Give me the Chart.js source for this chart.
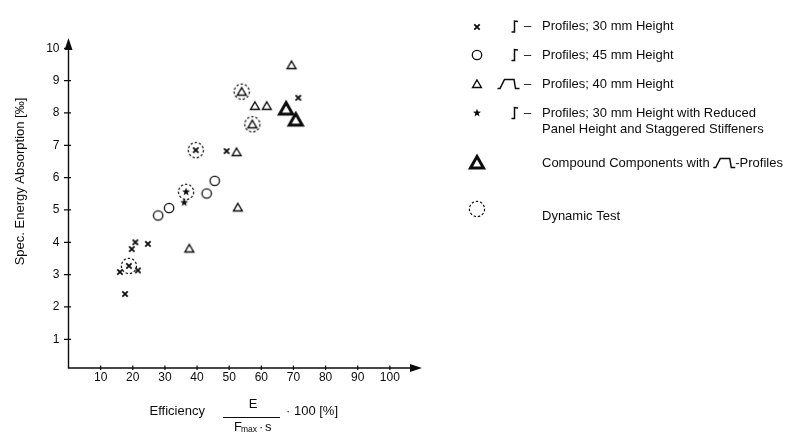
<!DOCTYPE html>
<html>
<head>
<meta charset="utf-8">
<script src="https://cdn.jsdelivr.net/npm/chart.js@4/dist/chart.umd.min.js"></script>
<style>
  html, body { margin: 0; padding: 0; background: #fff; }
  #wrap { width: 798px; height: 435px; position: relative; }
</style>
</head>
<body>
<div id="wrap"><canvas id="chart"></canvas></div>
<script>
// Tick labels
const xTicks = [10, 20, 30, 40, 50, 60, 70, 80, 90, 100];
const yTicks = [1, 2, 3, 4, 5, 6, 7, 8, 9, 10];

// Efficiency E/(Fmax·s)·100 [%] against specific energy absorption
const zProfile30X = [16.0, 17.6, 18.8, 19.7, 20.8, 21.6, 24.7, 39.6, 49.2, 71.5];
const zProfile30Y = [3.08, 2.40, 3.27, 3.79, 4.00, 3.13, 3.95, 6.85, 6.82, 8.47];

const zProfile45X = [27.9, 31.3, 43.0, 45.5];
const zProfile45Y = [4.83, 5.06, 5.51, 5.90];

const hatProfile40X = [37.6, 52.7, 52.3, 53.9, 57.2, 58.0, 61.7, 69.4];
const hatProfile40Y = [3.81, 5.08, 6.79, 8.66, 7.65, 8.22, 8.22, 9.48];

const staggeredX = [36.0, 36.6];
const staggeredY = [5.23, 5.56];

const compoundX = [67.7, 70.7];
const compoundY = [8.12, 7.78];

const dynamicX = [18.8, 39.6, 36.6, 53.9, 57.2];
const dynamicY = [3.27, 6.85, 5.56, 8.66, 7.65];

const legendLabels = [
  ['Profiles; 30 mm Height'],
  ['Profiles; 45 mm Height'],
  ['Profiles; 40 mm Height'],
  ['Profiles; 30 mm Height with Reduced', 'Panel Height and Staggered Stiffeners'],
  ['Compound Components with', '-Profiles'],
  ['Dynamic Test']
];

const INK = '#0c0c0c';
const FONT = "'Liberation Sans', Arial, Helvetica, sans-serif";
Chart.defaults.font.family = FONT;
Chart.defaults.color = INK;

const toPoints = (xs, ys) => xs.map((x, i) => ({ x: x, y: ys[i] }));

// Marker sprites, shared by the plot and the key
function makeMarker(size, draw) {
  const c = document.createElement('canvas');
  c.width = size; c.height = size;
  const g = c.getContext('2d');
  g.translate(size / 2, size / 2);
  g.strokeStyle = INK; g.fillStyle = INK;
  g.lineCap = 'butt';
  draw(g);
  return c;
}
const markers = {
  cross: makeMarker(14, g => {
    g.lineWidth = 1.8;
    g.beginPath();
    g.moveTo(-2.7, -2.7); g.lineTo(2.7, 2.7);
    g.moveTo(2.7, -2.7); g.lineTo(-2.7, 2.7);
    g.stroke();
  }),
  circle: makeMarker(14, g => {
    g.lineWidth = 1.3;
    g.beginPath(); g.arc(0, 0, 4.7, 0, Math.PI * 2); g.stroke();
  }),
  triangle: makeMarker(16, g => {
    g.lineWidth = 1.4;
    g.beginPath(); g.moveTo(0, -4); g.lineTo(4.4, 3.5); g.lineTo(-4.4, 3.5); g.closePath(); g.stroke();
  }),
  star: makeMarker(14, g => {
    g.beginPath();
    for (let i = 0; i < 10; i++) {
      const r = i % 2 === 0 ? 4.2 : 1.8;
      const a = -Math.PI / 2 + i * Math.PI / 5;
      if (i === 0) g.moveTo(r * Math.cos(a), r * Math.sin(a));
      else g.lineTo(r * Math.cos(a), r * Math.sin(a));
    }
    g.closePath(); g.fill();
  }),
  boldTriangle: makeMarker(24, g => {
    g.lineWidth = 3; g.lineJoin = 'miter';
    g.beginPath(); g.moveTo(0, -6.5); g.lineTo(6.5, 5); g.lineTo(-6.5, 5); g.closePath(); g.stroke();
  }),
  dynamic: makeMarker(22, g => {
    g.lineWidth = 1.2; g.setLineDash([2.4, 1.9]);
    g.beginPath(); g.arc(0, 0, 7.6, 0, Math.PI * 2); g.stroke();
  })
};

// Small profile cross-section symbols used in the key
function drawZGlyph(ctx, x, y) {
  ctx.beginPath();
  ctx.moveTo(x - 3, y + 5.5); ctx.lineTo(x, y + 5.5);
  ctx.lineTo(x, y - 5.5); ctx.lineTo(x + 3.5, y - 5);
  ctx.stroke();
}
function drawHatGlyph(ctx, x, y) {
  ctx.beginPath();
  ctx.moveTo(x, y + 4.5); ctx.lineTo(x + 2.5, y + 4.5);
  ctx.lineTo(x + 7, y - 4.5); ctx.lineTo(x + 16.5, y - 4.5);
  ctx.lineTo(x + 18, y + 4.5); ctx.lineTo(x + 22, y + 4.5);
  ctx.stroke();
}

const axesPlugin = {
  id: 'arrowAxes',
  beforeDatasetsDraw(chart) {
    const { ctx, chartArea: ca, scales } = chart;
    const L = ca.left, B = ca.bottom;
    ctx.save();
    ctx.strokeStyle = INK; ctx.fillStyle = INK; ctx.lineWidth = 1.4;
    // axis lines
    ctx.beginPath();
    ctx.moveTo(L, ca.top + 8); ctx.lineTo(L, B); ctx.lineTo(ca.right - 9, B);
    ctx.stroke();
    // arrow heads
    ctx.beginPath();
    ctx.moveTo(L, ca.top - 2); ctx.lineTo(L - 4, ca.top + 10); ctx.lineTo(L + 4, ca.top + 10); ctx.closePath();
    ctx.fill();
    ctx.beginPath();
    ctx.moveTo(ca.right, B); ctx.lineTo(ca.right - 12, B - 4); ctx.lineTo(ca.right - 12, B + 4); ctx.closePath();
    ctx.fill();
    // tick marks
    ctx.lineWidth = 1.2;
    ctx.beginPath();
    yTicks.forEach(v => {
      const p = scales.y.getPixelForValue(v);
      ctx.moveTo(L - 4.5, p); ctx.lineTo(L + 2.5, p);
    });
    xTicks.forEach(v => {
      const p = scales.x.getPixelForValue(v);
      ctx.moveTo(p, B - 2.5); ctx.lineTo(p, B + 2);
    });
    ctx.stroke();
    ctx.restore();
  }
};

const titlesPlugin = {
  id: 'axisTitles',
  afterDraw(chart) {
    const ctx = chart.ctx;
    ctx.save();
    ctx.fillStyle = INK; ctx.strokeStyle = INK;
    ctx.textBaseline = 'middle';
    // vertical title
    ctx.save();
    ctx.translate(20, 181.5);
    ctx.rotate(-Math.PI / 2);
    ctx.font = '13px ' + FONT;
    ctx.textAlign = 'center';
    ctx.fillText('Spec. Energy Absorption [‰]', 0, 0);
    ctx.restore();
    // horizontal title with fraction
    ctx.font = '13px ' + FONT;
    ctx.textAlign = 'left';
    ctx.fillText('Efficiency', 149.5, 411.5);
    ctx.textAlign = 'center';
    ctx.fillText('E', 253, 404);
    ctx.lineWidth = 1;
    ctx.beginPath(); ctx.moveTo(223, 417.5); ctx.lineTo(280, 417.5); ctx.stroke();
    ctx.textAlign = 'left';
    ctx.fillText('F', 234, 427.5);
    ctx.font = '8.5px ' + FONT;
    ctx.fillText('max', 241, 430);
    ctx.font = '13px ' + FONT;
    ctx.fillText('·', 259, 427.5);
    ctx.fillText('s', 265, 427.5);
    ctx.fillText('· 100 [%]', 286, 411.5);
    ctx.restore();
  }
};

const keyPlugin = {
  id: 'symbolKey',
  afterDraw(chart) {
    const ctx = chart.ctx;
    ctx.save();
    ctx.fillStyle = INK; ctx.strokeStyle = INK; ctx.lineWidth = 1.5;
    ctx.font = '13px ' + FONT;
    ctx.textBaseline = 'middle';
    ctx.textAlign = 'left';
    const stamp = (m, x, y) => ctx.drawImage(m, Math.round(x - m.width / 2), Math.round(y - m.height / 2));
    const textX = 542;
    const rowY = [26.5, 55, 84, 113, 163, 216.5];
    const rowMarkers = [markers.cross, markers.circle, markers.triangle, markers.star, markers.boldTriangle];
    rowMarkers.forEach((m, i) => stamp(m, 477, rowY[i]));
    stamp(markers.dynamic, 477, 208.5);

    [0, 1, 3].forEach(i => drawZGlyph(ctx, 514.5, rowY[i]));
    drawHatGlyph(ctx, 497.5, rowY[2]);
    [0, 1, 2, 3].forEach(i => ctx.fillText('–', 524, rowY[i]));

    ctx.fillText(legendLabels[0][0], textX, rowY[0]);
    ctx.fillText(legendLabels[1][0], textX, rowY[1]);
    ctx.fillText(legendLabels[2][0], textX, rowY[2]);
    ctx.fillText(legendLabels[3][0], textX, rowY[3]);
    ctx.fillText(legendLabels[3][1], textX, rowY[3] + 16.5);
    ctx.fillText(legendLabels[4][0], textX, rowY[4]);
    const w = ctx.measureText(legendLabels[4][0] + ' ').width;
    drawHatGlyph(ctx, textX + w, rowY[4]);
    ctx.fillText(legendLabels[4][1], textX + w + 22, rowY[4]);
    ctx.fillText(legendLabels[5][0], textX, rowY[5]);
    ctx.restore();
  }
};

const series = (label, xs, ys, marker) => ({
  label: label,
  data: toPoints(xs, ys),
  pointStyle: marker,
  pointRadius: 5,
  pointHoverRadius: 5,
  showLine: false
});

new Chart(document.getElementById('chart'), {
  type: 'scatter',
  data: {
    datasets: [
      series('Profiles; 30 mm Height', zProfile30X, zProfile30Y, markers.cross),
      series('Profiles; 45 mm Height', zProfile45X, zProfile45Y, markers.circle),
      series('Profiles; 40 mm Height', hatProfile40X, hatProfile40Y, markers.triangle),
      series('Reduced Panel Height, Staggered Stiffeners', staggeredX, staggeredY, markers.star),
      series('Compound Components', compoundX, compoundY, markers.boldTriangle),
      series('Dynamic Test', dynamicX, dynamicY, markers.dynamic)
    ]
  },
  options: {
    responsive: true,
    maintainAspectRatio: false,
    animation: false,
    events: [],
    layout: { padding: { top: 40, right: 376, left: 0, bottom: 0 } },
    plugins: { legend: { display: false }, tooltip: { enabled: false } },
    scales: {
      x: {
        type: 'linear', min: 0, max: 110,
        afterBuildTicks: s => { s.ticks = xTicks.map(v => ({ value: v })); },
        afterFit: s => { s.height = 67; },
        grid: { display: false, drawTicks: false },
        border: { display: false },
        ticks: { padding: 2, color: INK, font: { size: 12 }, maxRotation: 0, autoSkip: false }
      },
      y: {
        type: 'linear', min: 0.112, max: 10.257,
        afterBuildTicks: s => { s.ticks = yTicks.map(v => ({ value: v })); },
        afterFit: s => { s.width = 68.5; },
        grid: { display: false, drawTicks: false },
        border: { display: false },
        ticks: { padding: 9, color: INK, font: { size: 12 }, autoSkip: false }
      }
    }
  },
  plugins: [axesPlugin, titlesPlugin, keyPlugin]
});
</script>
</body>
</html>
